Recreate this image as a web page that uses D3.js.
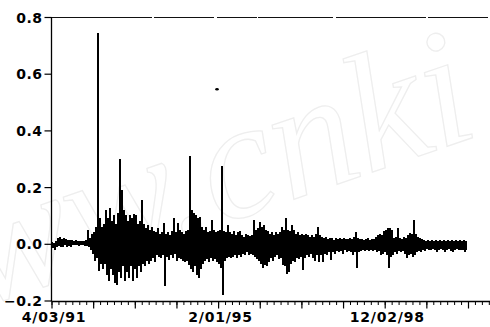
<!DOCTYPE html>
<html>
<head>
<meta charset="utf-8">
<script src="https://cdn.jsdelivr.net/npm/d3@7"></script>
<style>
  html, body { margin: 0; padding: 0; background: #fff; }
  svg { display: block; }
  .tick text, .lbl { font-family: "DejaVu Sans", sans-serif; font-weight: bold; font-size: 14px; fill: #000; }
</style>
</head>
<body>
<div id="chart"></div>
<script>
// envelope of the daily series, read per 2px column: upper and lower swing
const highValues = [
  0.005, 0.002, 0.01, 0.02, 0.025, 0.015, 0.02, 0.018, 0.012, 0.014,
  0.012, 0.01, 0.012, 0.01, 0.009, 0.011, 0.01, 0.012, 0.05, 0.02,
  0.035, 0.04, 0.06, 0.745, 0.09, 0.06, 0.07, 0.12, 0.09, 0.125,
  0.08, 0.1, 0.07, 0.11, 0.30, 0.19, 0.12, 0.1, 0.08, 0.1,
  0.09, 0.105, 0.1, 0.07, 0.08, 0.155, 0.07, 0.055, 0.065, 0.05,
  0.06, 0.045, 0.04, 0.055, 0.035, 0.04, 0.075, 0.035, 0.04, 0.03,
  0.045, 0.09, 0.04, 0.074, 0.05, 0.04, 0.035, 0.045, 0.05, 0.31,
  0.12, 0.11, 0.1, 0.09, 0.095, 0.06, 0.05, 0.06, 0.04, 0.045,
  0.085, 0.05, 0.04, 0.045, 0.05, 0.275, 0.045, 0.04, 0.067, 0.04,
  0.035, 0.045, 0.03, 0.04, 0.045, 0.03, 0.025, 0.035, 0.03, 0.028,
  0.03, 0.085, 0.05, 0.055, 0.078, 0.06, 0.065, 0.05, 0.045, 0.035,
  0.04, 0.03, 0.04, 0.035, 0.04, 0.06, 0.05, 0.09, 0.05, 0.045,
  0.067, 0.05, 0.035, 0.04, 0.03, 0.035, 0.03, 0.035, 0.03, 0.025,
  0.03, 0.025, 0.035, 0.06, 0.03, 0.025, 0.02, 0.025, 0.018, 0.02,
  0.022, 0.015, 0.02, 0.018, 0.022, 0.015, 0.02, 0.018, 0.015, 0.02,
  0.018, 0.025, 0.042, 0.02, 0.015, 0.018, 0.012, 0.015, 0.02, 0.012,
  0.015, 0.018, 0.025, 0.03, 0.035, 0.03, 0.045, 0.05, 0.055, 0.055,
  0.05, 0.02, 0.025, 0.055, 0.02, 0.015, 0.025, 0.02, 0.03, 0.038,
  0.035, 0.085, 0.035, 0.025, 0.02, 0.015, 0.012, 0.01, 0.012, 0.01,
  0.012, 0.01, 0.012, 0.008, 0.012, 0.01, 0.012, 0.01, 0.012, 0.01,
  0.012, 0.01, 0.012, 0.01, 0.012, 0.01, 0.012, 0.01
];
const lowValues = [
  -0.015, -0.02, -0.012, -0.008, -0.01, -0.012, -0.005, -0.01, -0.006, -0.01,
  -0.004, -0.005, -0.004, -0.006, -0.005, -0.004, -0.006, -0.008, -0.01, -0.02,
  -0.035, -0.06, -0.05, -0.095, -0.07, -0.09, -0.07, -0.11, -0.13, -0.09,
  -0.11, -0.14, -0.145, -0.1, -0.12, -0.08, -0.13, -0.1, -0.12, -0.08,
  -0.13, -0.09, -0.12, -0.08, -0.1, -0.07, -0.08, -0.06, -0.07, -0.06,
  -0.05, -0.065, -0.04, -0.045, -0.05, -0.04, -0.15, -0.045, -0.056, -0.04,
  -0.05, -0.035, -0.06, -0.05, -0.055, -0.06, -0.065, -0.06, -0.075, -0.09,
  -0.1, -0.08, -0.11, -0.12, -0.09, -0.07, -0.06, -0.055, -0.065, -0.05,
  -0.06, -0.055, -0.065, -0.07, -0.085, -0.18, -0.06, -0.05, -0.045, -0.05,
  -0.045, -0.04, -0.05, -0.04, -0.045, -0.035, -0.04, -0.03, -0.04, -0.035,
  -0.04, -0.045, -0.055, -0.06, -0.07, -0.085, -0.075, -0.08, -0.065, -0.05,
  -0.06, -0.045, -0.04, -0.055, -0.05, -0.075, -0.08, -0.105, -0.1, -0.07,
  -0.06, -0.065, -0.05, -0.055, -0.045, -0.092, -0.05, -0.04, -0.045, -0.035,
  -0.05, -0.06, -0.04, -0.065, -0.04, -0.065, -0.035, -0.04, -0.03, -0.056,
  -0.03, -0.035, -0.025, -0.03, -0.025, -0.035, -0.02, -0.03, -0.025, -0.03,
  -0.04, -0.03, -0.085, -0.03, -0.025, -0.02, -0.025, -0.02, -0.025, -0.02,
  -0.025, -0.02, -0.03, -0.025, -0.04, -0.035, -0.03, -0.04, -0.085, -0.045,
  -0.04, -0.03, -0.035, -0.025, -0.03, -0.025, -0.035, -0.05, -0.04, -0.035,
  -0.045, -0.04, -0.03, -0.025, -0.03, -0.02, -0.025, -0.018, -0.02, -0.022,
  -0.018, -0.02, -0.03, -0.02, -0.018, -0.022, -0.03, -0.02, -0.018, -0.025,
  -0.028, -0.02, -0.018, -0.02, -0.022, -0.02, -0.028, -0.02
];
// isolated mark above the series
const strayPoints = [{ obs: 165, value: 0.545 }];

const yTicks = [-0.2, 0.0, 0.2, 0.4, 0.6, 0.8];
const dateLabels = ["4/03/91", "2/01/95", "12/02/98"];
const majorsPerLabel = 4;
const majorStep = 41.65;   // observations between major ticks
const minorsPerMajor = 6;

const width = 490;
const height = 327;
const plotLeft = 51.5;
const plotTop = 17;
const plotBottom = 301.5;

const returns = highValues.flatMap((h, i) => [h, lowValues[i]]);

const x = d3.scaleLinear().domain([0, returns.length]).range([52, 52 + returns.length]);
const y = d3.scaleLinear().domain([-0.2, 0.8]).range([300.5, 17]);

const svg = d3.select("#chart").append("svg")
    .attr("width", width)
    .attr("height", height);

// faint watermark
svg.append("text")
    .attr("transform", "translate(-22,308) rotate(-19)")
    .style("font-family", "\"Liberation Serif\", serif")
    .style("font-style", "italic")
    .style("font-size", "168px")
    .style("fill", "none")
    .style("stroke", "#eeeeee")
    .style("stroke-width", 1.3)
    .text("ww.cnki");

// top frame line, broken like the scan
svg.append("line")
    .attr("x1", plotLeft).attr("x2", width)
    .attr("y1", plotTop).attr("y2", plotTop)
    .attr("stroke", "#111")
    .attr("stroke-width", 1)
    .attr("shape-rendering", "crispEdges")
    .attr("stroke-dasharray", "100 2 60 3 40 1 75 3 90 2 60 4");

svg.append("path")
    .datum(returns)
    .attr("fill", "none")
    .attr("stroke", "#000")
    .attr("stroke-width", 1.2)
    .attr("shape-rendering", "crispEdges")
    .attr("d", d3.line().x((d, i) => x(i)).y(d => y(d)));

svg.selectAll("ellipse.stray")
    .data(strayPoints)
    .enter().append("ellipse")
    .attr("class", "stray")
    .attr("cx", d => x(d.obs))
    .attr("cy", d => y(d.value))
    .attr("rx", 1.8)
    .attr("ry", 1.3)
    .attr("fill", "#000");

// y axis
const yAxis = svg.append("g")
    .attr("transform", `translate(${plotLeft},0)`)
    .call(d3.axisLeft(y).tickValues(yTicks).tickFormat(d3.format(".1f")).tickSize(7).tickPadding(2).tickSizeOuter(0));
yAxis.select(".domain").attr("d", `M0,${plotTop}V${plotBottom}`).attr("stroke-width", 1.3);
yAxis.selectAll(".tick line").attr("stroke-width", 1.2);
yAxis.selectAll(".tick text").attr("dy", "0.36em").style("letter-spacing", "0.5px");

// x axis: minor and major ticks by observation
const lastObs = x.invert(width + 2);
const minorTicks = d3.range(0, lastObs, majorStep / minorsPerMajor);
const majorTicks = d3.range(0, lastObs, majorStep);

svg.append("line")
    .attr("x1", plotLeft).attr("x2", width)
    .attr("y1", plotBottom).attr("y2", plotBottom)
    .attr("stroke", "#000").attr("stroke-width", 1.3);

svg.selectAll("line.minor")
    .data(minorTicks)
    .enter().append("line")
    .attr("class", "minor")
    .attr("x1", d => x(d)).attr("x2", d => x(d))
    .attr("y1", plotBottom).attr("y2", plotBottom + 3.5)
    .attr("stroke", "#000");

svg.selectAll("line.major")
    .data(majorTicks)
    .enter().append("line")
    .attr("class", "major")
    .attr("x1", d => x(d)).attr("x2", d => x(d))
    .attr("y1", plotBottom).attr("y2", plotBottom + 7)
    .attr("stroke", "#000")
    .attr("stroke-width", 1.2);

svg.selectAll("text.lbl")
    .data(dateLabels)
    .enter().append("text")
    .attr("class", "lbl")
    .attr("x", (d, i) => x(i * majorsPerLabel * majorStep) + 2)
    .attr("y", 322)
    .attr("text-anchor", "middle")
    .style("letter-spacing", "0.8px")
    .text(d => d);
</script>
</body>
</html>
